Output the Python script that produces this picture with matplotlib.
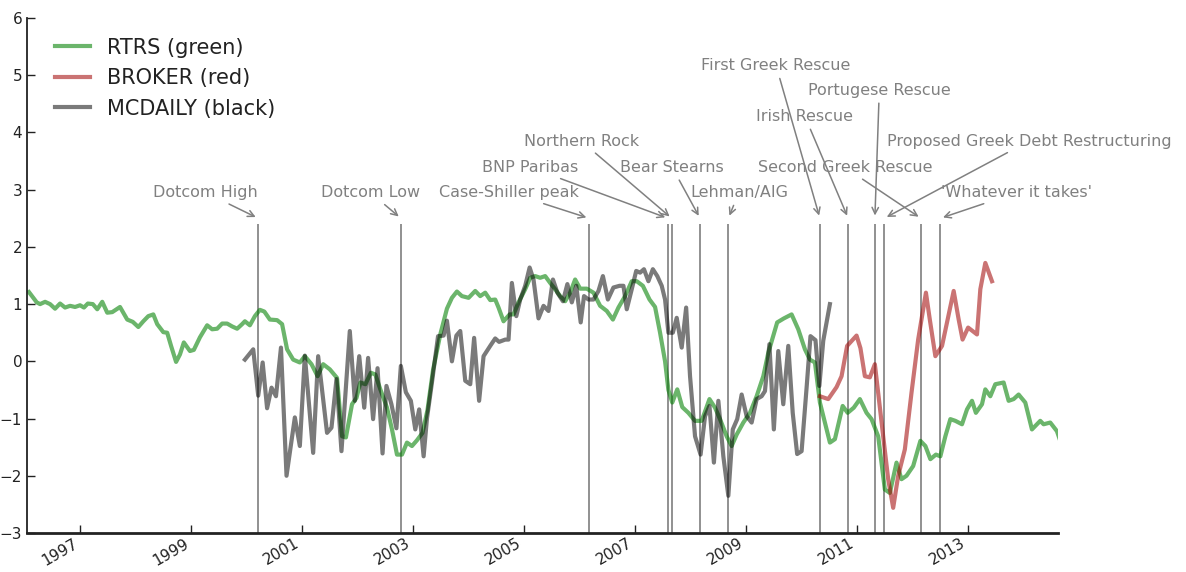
import matplotlib
matplotlib.use("Agg")
import matplotlib.pyplot as plt

# ---------------- data (decimal years, index values) ----------------
rtrs_x = [1996.08, 1996.22, 1996.28, 1996.37, 1996.46, 1996.55, 1996.64, 1996.73, 1996.82, 1996.91,
          1997.00, 1997.07, 1997.14, 1997.23, 1997.31, 1997.40, 1997.49, 1997.58, 1997.72, 1997.85,
          1997.95, 1998.05, 1998.14, 1998.23, 1998.32, 1998.39, 1998.50, 1998.57, 1998.64, 1998.73,
          1998.80, 1998.87, 1998.98, 1999.05, 1999.16, 1999.29, 1999.38, 1999.47, 1999.56, 1999.65,
          1999.74, 1999.83, 1999.92, 1999.97, 2000.06, 2000.15, 2000.24, 2000.32, 2000.42, 2000.55,
          2000.64, 2000.73, 2000.84, 2000.96, 2001.05, 2001.17, 2001.28, 2001.38, 2001.50, 2001.63,
          2001.72, 2001.79, 2001.90, 2001.98, 2002.05, 2002.14, 2002.24, 2002.32, 2002.41, 2002.53,
          2002.62, 2002.71, 2002.80, 2002.89, 2002.98, 2003.07, 2003.17, 2003.26, 2003.36, 2003.49,
          2003.61, 2003.70, 2003.79, 2003.88, 2004.00, 2004.12, 2004.21, 2004.30, 2004.39, 2004.48,
          2004.54, 2004.63, 2004.74, 2004.81, 2004.90, 2005.02, 2005.11, 2005.20, 2005.29, 2005.38,
          2005.47, 2005.56, 2005.65, 2005.74, 2005.83, 2005.92, 2006.01, 2006.13, 2006.25, 2006.37,
          2006.49, 2006.60, 2006.70, 2006.82, 2006.94, 2007.03, 2007.14, 2007.26, 2007.36, 2007.45,
          2007.54, 2007.60, 2007.67, 2007.76, 2007.85, 2007.96, 2008.08, 2008.20, 2008.34, 2008.44,
          2008.53, 2008.65, 2008.74, 2008.83, 2008.95, 2009.07, 2009.19, 2009.31, 2009.40, 2009.56,
          2009.68, 2009.82, 2009.94, 2010.06, 2010.15, 2010.24, 2010.33, 2010.42, 2010.51, 2010.60,
          2010.74, 2010.83, 2010.94, 2011.05, 2011.17, 2011.26, 2011.38, 2011.50, 2011.59, 2011.71,
          2011.80, 2011.89, 2012.01, 2012.14, 2012.23, 2012.32, 2012.42, 2012.50, 2012.59, 2012.68,
          2012.77, 2012.89, 2012.98, 2013.07, 2013.14, 2013.25, 2013.31, 2013.40, 2013.49, 2013.64,
          2013.73, 2013.82, 2013.91, 2014.03, 2014.15, 2014.30, 2014.36, 2014.48, 2014.60, 2014.66]
rtrs_y = [1.21, 1.03, 1.00, 1.04, 1.00, 0.92, 1.01, 0.94, 0.97, 0.95,
          0.98, 0.94, 1.01, 1.00, 0.91, 1.04, 0.85, 0.86, 0.95, 0.73,
          0.69, 0.60, 0.70, 0.79, 0.82, 0.65, 0.51, 0.50, 0.27, -0.01,
          0.12, 0.33, 0.18, 0.20, 0.42, 0.63, 0.56, 0.57, 0.66, 0.66,
          0.61, 0.57, 0.65, 0.70, 0.63, 0.79, 0.90, 0.87, 0.73, 0.72,
          0.65, 0.21, 0.03, -0.02, 0.09, -0.05, -0.26, -0.05, -0.14, -0.29,
          -1.31, -1.33, -0.75, -0.64, -0.37, -0.40, -0.20, -0.23, -0.49, -0.81,
          -1.19, -1.63, -1.63, -1.42, -1.48, -1.38, -1.25, -0.85, -0.15, 0.47,
          0.92, 1.11, 1.22, 1.14, 1.11, 1.23, 1.14, 1.20, 1.07, 1.08,
          0.94, 0.70, 0.82, 0.82, 1.03, 1.26, 1.46, 1.49, 1.46, 1.49,
          1.37, 1.26, 1.14, 1.05, 1.20, 1.43, 1.27, 1.27, 1.20, 0.97,
          0.88, 0.73, 0.94, 1.14, 1.40, 1.40, 1.32, 1.08, 0.95, 0.50,
          0.00, -0.50, -0.72, -0.49, -0.80, -0.90, -1.04, -1.04, -0.66, -0.81,
          -1.01, -1.31, -1.48, -1.28, -1.07, -0.90, -0.61, -0.26, 0.15, 0.68,
          0.75, 0.82, 0.56, 0.21, 0.03, -0.02, -0.72, -1.07, -1.42, -1.36,
          -0.78, -0.90, -0.81, -0.66, -0.90, -1.01, -1.31, -2.24, -2.30, -1.77,
          -2.06, -2.00, -1.83, -1.39, -1.48, -1.71, -1.63, -1.66, -1.31, -1.01,
          -1.04, -1.10, -0.84, -0.69, -0.90, -0.75, -0.49, -0.61, -0.40, -0.37,
          -0.69, -0.66, -0.58, -0.72, -1.19, -1.04, -1.10, -1.07, -1.22, -1.39]

broker_x = [2010.33, 2010.48, 2010.63, 2010.72, 2010.82, 2010.99, 2011.06, 2011.14, 2011.23, 2011.32,
            2011.47, 2011.56, 2011.65, 2011.74, 2011.86, 2011.98, 2012.10, 2012.24, 2012.31, 2012.41,
            2012.53, 2012.62, 2012.74, 2012.83, 2012.90, 2013.00, 2013.16, 2013.22, 2013.31, 2013.43]
broker_y = [-0.61, -0.66, -0.45, -0.26, 0.27, 0.45, 0.23, -0.26, -0.28, -0.05,
            -1.31, -2.06, -2.56, -2.00, -1.54, -0.55, 0.38, 1.20, 0.73, 0.09,
            0.27, 0.68, 1.23, 0.73, 0.38, 0.59, 0.47, 1.26, 1.72, 1.40]

mcdaily_x = [1999.97, 2000.12, 2000.21, 2000.29, 2000.37, 2000.45, 2000.53, 2000.62, 2000.72, 2000.87,
             2000.96, 2001.05, 2001.20, 2001.29, 2001.45, 2001.53, 2001.62, 2001.71, 2001.86, 2001.95,
             2002.03, 2002.12, 2002.19, 2002.28, 2002.36, 2002.45, 2002.52, 2002.61, 2002.70, 2002.78,
             2002.87, 2002.96, 2003.04, 2003.11, 2003.19, 2003.25, 2003.34, 2003.45, 2003.55, 2003.61,
             2003.70, 2003.78, 2003.85, 2003.94, 2004.03, 2004.10, 2004.19, 2004.27, 2004.39, 2004.48,
             2004.55, 2004.66, 2004.72, 2004.78, 2004.86, 2004.93, 2005.02, 2005.10, 2005.17, 2005.26,
             2005.35, 2005.44, 2005.52, 2005.60, 2005.70, 2005.78, 2005.86, 2005.94, 2006.02, 2006.08,
             2006.16, 2006.25, 2006.34, 2006.42, 2006.51, 2006.61, 2006.72, 2006.79, 2006.85, 2006.94,
             2007.02, 2007.09, 2007.16, 2007.24, 2007.32, 2007.40, 2007.48, 2007.54, 2007.60, 2007.68,
             2007.75, 2007.84, 2007.92, 2007.99, 2008.08, 2008.18, 2008.26, 2008.34, 2008.42, 2008.50,
             2008.59, 2008.68, 2008.76, 2008.84, 2008.92, 2009.01, 2009.10, 2009.19, 2009.28, 2009.34,
             2009.42, 2009.50, 2009.58, 2009.67, 2009.76, 2009.84, 2009.92, 2010.00, 2010.09, 2010.16,
             2010.25, 2010.32, 2010.39, 2010.51]
mcdaily_y = [0.03, 0.21, -0.60, -0.02, -0.82, -0.46, -0.61, 0.24, -2.00, -0.98,
             -1.48, 0.10, -1.60, 0.09, -1.25, -1.16, -0.31, -1.57, 0.53, -0.69,
             0.09, -0.81, 0.06, -1.01, -0.12, -1.61, -0.43, -0.75, -1.17, -0.08,
             -0.54, -0.69, -1.19, -0.84, -1.66, -1.00, -0.37, 0.44, 0.45, 0.71,
             0.00, 0.45, 0.53, -0.34, -0.40, 0.41, -0.69, 0.09, 0.27, 0.40,
             0.34, 0.38, 0.38, 1.37, 0.79, 1.08, 1.32, 1.64, 1.43, 0.75,
             0.97, 0.88, 1.43, 1.20, 1.05, 1.35, 1.03, 1.32, 0.68, 1.14,
             1.08, 1.08, 1.23, 1.49, 1.08, 1.29, 1.32, 1.32, 0.91, 1.26,
             1.58, 1.55, 1.61, 1.40, 1.61, 1.49, 1.32, 1.08, 0.50, 0.50,
             0.76, 0.24, 0.94, -0.26, -1.31, -1.63, -0.96, -0.78, -1.77, -0.69,
             -1.66, -2.35, -1.19, -1.01, -0.58, -0.96, -1.07, -0.66, -0.61, -0.52,
             0.30, -1.19, 0.18, -0.75, 0.27, -0.90, -1.62, -1.57, -0.46, 0.44,
             0.37, -0.43, 0.36, 1.00]

event_labels = ["Dotcom High", "Dotcom Low", "Case-Shiller peak", "BNP Paribas", "Northern Rock",
                "Bear Stearns", "Lehman/AIG", "First Greek Rescue", "Irish Rescue",
                "Portugese Rescue", "Proposed Greek Debt Restructuring", "Second Greek Rescue",
                "'Whatever it takes'"]
event_dates = [2000.21, 2002.78, 2006.17, 2007.59, 2007.66, 2008.17, 2008.68, 2010.33, 2010.84,
               2011.32, 2011.49, 2012.15, 2012.50]

x_ticks = [1997, 1999, 2001, 2003, 2005, 2007, 2009, 2011, 2013]
x_tick_labels = ["1997", "1999", "2001", "2003", "2005", "2007", "2009", "2011", "2013"]
y_ticks = [-3, -2, -1, 0, 1, 2, 3, 4, 5, 6]
y_tick_labels = ["\u22123", "\u22122", "\u22121", "0", "1", "2", "3", "4", "5", "6"]

# label positions (data coords)
label_x = [1999.26, 2002.23, 2004.73, 2005.11, 2006.03, 2007.67, 2008.87, 2009.54, 2010.06,
           2011.40, 2014.10, 2010.78, 2013.88]
label_y = [2.95, 2.95, 2.95, 3.39, 3.85, 3.39, 2.95, 5.17, 4.28, 4.74, 3.85, 3.39, 2.95]

# ---------------- figure ----------------
fig = plt.figure(figsize=(11.86, 5.72), dpi=100)
ax = fig.add_axes([0.0228, 0.0682, 0.8693, 0.9003])

lw = 3.0
ax.plot(rtrs_x, rtrs_y, color="#008000", alpha=0.58, lw=lw, label="RTRS (green)")
ax.plot(broker_x, broker_y, color="#a00000", alpha=0.55, lw=lw, label="BROKER (red)")
ax.plot(mcdaily_x, mcdaily_y, color="black", alpha=0.52, lw=lw, label="MCDAILY (black)")

ax.vlines(event_dates, -3, 2.4, color="#888888", lw=1.3, zorder=1)

for lab, d, tx, ty in zip(event_labels, event_dates, label_x, label_y):
    ax.annotate(lab, xy=(d, 2.5), xytext=(tx, ty), textcoords="data",
                ha="center", va="center", fontsize=11.5, color="#808080",
                arrowprops=dict(arrowstyle="->", color="#808080", lw=1.1),
                annotation_clip=False)

ax.set_xlim(1996.045, 2014.62)
ax.set_ylim(-3, 6)
ax.set_xticks(x_ticks)
ax.set_xticklabels(x_tick_labels, rotation=30, ha="right")
ax.set_yticks(y_ticks)
ax.set_yticklabels(y_tick_labels)
ax.tick_params(axis="both", direction="in", length=6, width=1, labelsize=11, colors="#222222")
ax.tick_params(axis="x", pad=2)
for s in ["top", "right"]:
    ax.spines[s].set_visible(False)
ax.spines["left"].set_linewidth(1.3)
ax.spines["bottom"].set_linewidth(2.0)
ax.spines["left"].set_color("#222222")
ax.spines["bottom"].set_color("#222222")

leg = ax.legend(loc="upper left", frameon=False, fontsize=15, handlelength=1.7,
                borderaxespad=0.3, bbox_to_anchor=(0.013, 0.99))
for t in leg.get_texts():
    t.set_color("#222222")

fig.savefig("out.png", dpi=100)
